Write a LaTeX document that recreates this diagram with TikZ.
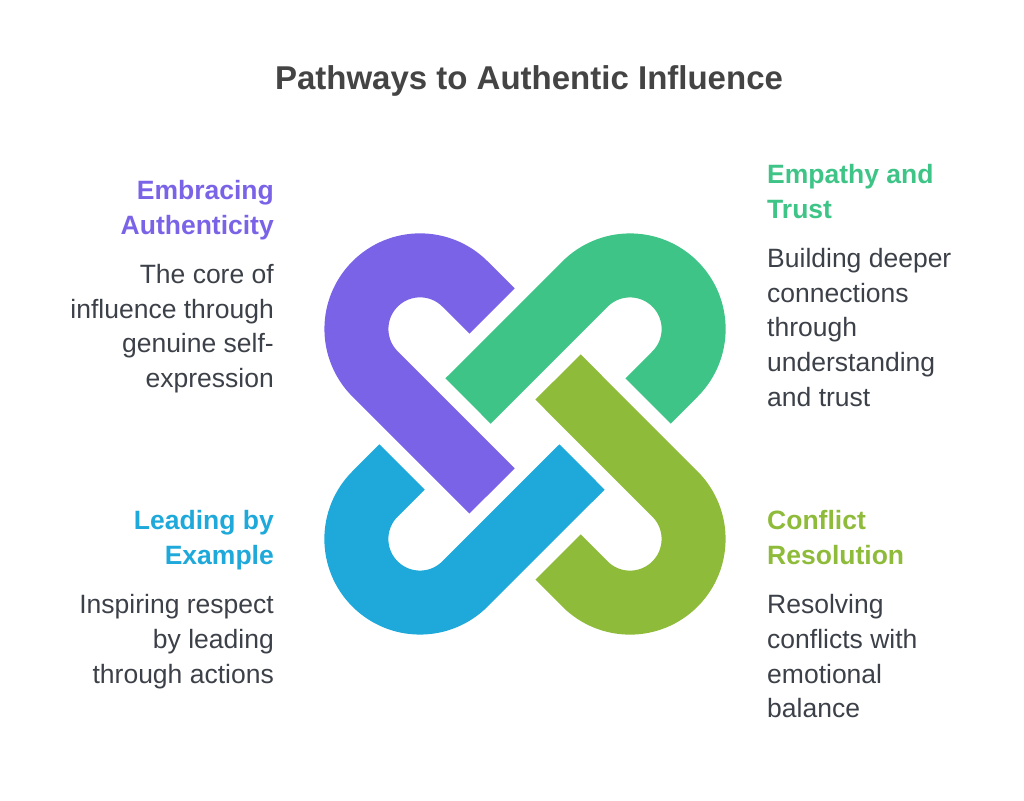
\documentclass[tikz,border=0pt]{standalone}
\usepackage{fontspec}
\setmainfont{Liberation Sans}
\definecolor{ink}{HTML}{3C4048}
\definecolor{titleink}{HTML}{444444}
\definecolor{purp}{HTML}{7B63E8}
\definecolor{grn}{HTML}{3EC486}
\definecolor{olv}{HTML}{8FBB3A}
\definecolor{blu}{HTML}{1EA9DA}
\tikzset{
  loop/.style={line width=64pt},
  head/.style={font=\fontsize{26.5}{34.8}\selectfont\bfseries, inner sep=0pt},
  body/.style={font=\fontsize{26.5}{34.8}\selectfont, text=ink, inner sep=0pt}
}
\newcommand{\uloop}[1]{\draw[loop,#1] (492,489) -- (465,516) arc[start angle=45,end angle=225,radius=63.6pt] -- (492,309);}
\begin{document}
\begin{tikzpicture}[x=1pt,y=1pt]
    \useasboundingbox (0,0) rectangle (1024,800);
    \coordinate (C) at (525,366);

    % the four loops
    \uloop{purp}
    \begin{scope}[rotate around={-90:(C)}] \uloop{grn} \end{scope}
    \begin{scope}[rotate around={-180:(C)}] \uloop{olv} \end{scope}
    \begin{scope}[rotate around={-270:(C)}] \uloop{blu} \end{scope}

    \node[font=\fontsize{33}{40}\selectfont\bfseries, text=titleink] (title) at (529,719) {Pathways to Authentic Influence};

    \node[head, text=purp, anchor=north east, align=right] (authH) at (274,620) {Embracing\\Authenticity};
    \node[body, anchor=north east, align=right] (authB) at (274,536) {The core of\\influence through\\genuine self-\\expression};

    \node[head, text=grn, anchor=north west, align=left] (trustH) at (767,636) {Empathy and\\Trust};
    \node[body, anchor=north west, align=left] (trustB) at (767,552) {Building deeper\\connections\\through\\understanding\\and trust};

    \node[head, text=blu, anchor=north east, align=right] (leadH) at (274,290) {Leading by\\Example};
    \node[body, anchor=north east, align=right] (leadB) at (274,206) {Inspiring respect\\by leading\\through actions};

    \node[head, text=olv, anchor=north west, align=left] (confH) at (767,290) {Conflict\\Resolution};
    \node[body, anchor=north west, align=left] (confB) at (767,206) {Resolving\\conflicts with\\emotional\\balance};
\end{tikzpicture}
\end{document}
